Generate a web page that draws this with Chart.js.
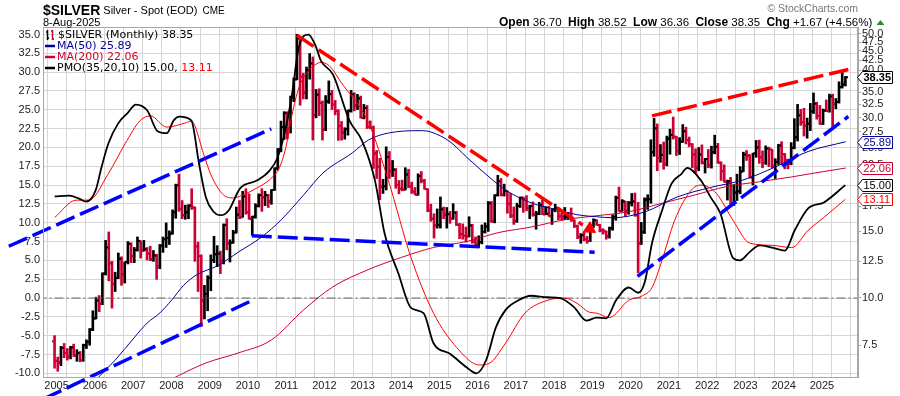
<!DOCTYPE html>
<html>
<head>
<meta charset="utf-8">
<script src="https://cdn.jsdelivr.net/npm/chart.js@4.4.1/dist/chart.umd.min.js"></script>
<style>
html,body{margin:0;padding:0;background:#fff;}
#wrap{width:900px;height:396px;}
</style>
</head>
<body>
<div id="wrap"><canvas id="grafico" width="900" height="396"></canvas></div>
<script>
// velas mensuales de plata, desde dic-2004 hasta ago-2025
const fechaInicio = 2004 + 11/12 + 0.03;

const aperturas = [7.68,
 6.82,6.75,7.38,7.15,6.99,7.40,7.05,7.15,6.85,7.50,7.65,8.25,
 8.83,9.85,9.65,11.60,13.60,12.35,10.90,11.30,12.70,11.55,12.45,13.90,
 12.90,13.40,14.15,13.35,13.45,13.10,12.65,12.95,12.10,13.75,14.30,14.40,
 14.80,16.85,19.85,17.20,16.55,16.85,17.55,17.35,13.70,12.90,9.85,10.25,
 11.30,12.60,13.05,13.10,12.55,15.60,13.95,14.00,14.90,16.60,16.35,18.55,
 16.85,16.20,16.40,17.50,18.70,18.45,18.70,18.00,19.30,22.00,24.70,28.30,
 30.85,28.05,33.90,37.85,48.60,38.50,34.90,40.00,41.70,30.45,34.50,32.80,
 27.90,33.10,34.60,32.50,31.25,28.50,27.40,27.95,31.30,34.55,32.30,33.70,
 29.95,31.80,28.40,28.20,24.10,22.25,19.70,19.75,23.60,21.70,21.85,19.90,
 19.45,19.35,21.20,19.75,19.10,18.75,21.00,20.40,19.40,17.05,16.20,15.55,
 15.60,17.15,16.60,16.65,16.20,16.80,15.60,14.75,14.60,14.55,15.55,14.10,
 13.85,14.05,14.95,15.45,17.80,15.95,18.70,20.35,18.75,19.20,17.75,16.50,
 15.95,17.50,18.40,18.25,17.30,17.50,16.60,16.70,17.60,16.65,16.70,16.45,
 17.15,17.30,16.45,16.35,16.40,16.45,16.05,15.50,14.50,14.65,14.30,14.15,
 15.45,16.05,15.60,15.10,15.00,14.55,15.30,16.35,18.40,16.95,18.00,16.95,
 17.85,18.00,16.55,13.95,14.95,18.20,18.25,24.30,28.10,23.45,23.90,22.60,
 26.40,27.00,26.70,24.45,25.90,27.60,26.15,25.50,23.95,22.10,23.95,22.80,
 23.30,22.40,24.30,25.10,22.80,21.65,20.30,20.35,17.80,19.00,19.15,21.60,
 23.95,23.80,20.85,24.10,25.00,23.55,22.75,24.85,24.70,22.35,22.90,25.30,
 24.00,23.15,22.65,24.95,26.60,30.40,29.15,28.55,28.90,31.15,32.65,30.30,
 28.90,31.30,31.20,34.10,32.65,33.00,36.10,36.70];

const maximos = [7.95,
 6.98,7.45,7.58,7.35,7.45,7.55,7.30,7.22,7.55,7.75,8.30,9.25,
 10.05,10.15,11.65,14.20,14.95,12.50,11.70,13.15,12.85,12.45,14.10,14.00,
 13.60,14.50,14.15,14.20,13.60,13.70,13.35,13.05,13.85,14.50,15.80,15.05,
 17.10,20.00,21.25,18.10,17.60,17.65,19.45,17.40,14.05,13.00,10.80,11.45,
 13.00,14.55,13.75,13.30,15.70,16.20,14.25,15.10,17.40,18.10,19.15,19.45,
 18.85,16.45,17.75,18.85,19.45,19.15,18.80,19.35,22.10,24.85,29.35,31.10,
 31.10,34.20,38.15,49.80,48.70,39.30,40.80,44.30,43.40,35.60,35.75,33.20,
 34.30,37.50,35.40,33.30,31.45,29.30,28.20,31.40,35.40,34.90,34.55,34.20,
 32.50,32.30,29.40,28.50,24.55,23.40,20.60,25.10,24.40,23.10,22.00,20.45,
 20.50,22.10,21.90,20.25,19.60,21.30,21.60,20.60,19.45,17.70,16.70,17.20,
 18.50,17.40,17.35,16.95,17.75,16.95,15.75,15.70,15.40,16.40,15.65,14.50,
 14.60,15.60,15.80,18.00,18.00,18.75,21.10,20.70,20.00,19.20,18.90,17.40,
 17.80,18.50,18.50,18.65,17.60,17.95,16.95,17.90,18.20,17.45,17.50,17.15,
 17.70,17.30,16.80,17.35,16.85,17.30,16.10,15.60,14.80,14.95,14.55,15.55,
 16.20,16.10,15.65,15.25,15.05,15.40,16.60,18.60,19.65,18.20,18.00,18.00,
 18.90,18.95,17.90,15.85,18.40,18.75,26.20,29.85,28.85,25.45,25.85,26.80,
 27.95,30.10,26.75,26.55,28.75,28.30,26.65,25.60,24.80,25.00,25.40,23.40,
 24.70,25.20,26.95,25.65,22.90,22.50,20.50,20.85,19.95,21.25,22.25,24.30,
 24.55,23.95,24.15,26.10,26.15,24.50,25.25,25.05,24.70,23.35,25.50,25.90,
 24.10,23.30,25.75,29.80,32.50,31.55,31.75,29.90,32.70,34.85,32.95,32.30,
 31.60,33.40,34.60,34.60,33.70,37.30,39.50,38.52];

const minimos = [6.52,
 6.40,6.62,6.95,6.85,6.90,7.00,6.80,6.78,6.80,7.35,7.50,8.20,
 8.80,9.20,9.60,11.50,11.10,9.40,10.40,11.25,10.80,10.95,12.30,12.40,
 12.40,13.30,12.75,13.30,12.60,12.55,12.50,11.20,11.95,13.20,13.60,13.85,
 14.75,16.25,16.95,16.20,16.15,16.20,17.15,12.50,10.40,8.40,8.80,9.25,
 10.45,12.40,12.10,11.60,12.30,13.40,12.45,13.95,14.85,16.20,16.35,16.65,
 16.15,14.65,16.25,17.40,16.95,17.55,17.35,17.70,19.25,21.80,24.35,26.25,
 26.35,27.30,33.05,37.75,32.35,33.60,33.60,37.90,26.15,29.95,30.35,26.15,
 27.70,32.70,31.50,30.50,26.10,26.15,26.30,26.95,31.00,31.25,31.50,29.90,
 29.75,28.05,28.00,22.00,20.70,18.20,18.90,19.30,20.70,20.95,19.50,18.85,
 19.20,19.30,19.55,18.90,18.75,18.70,20.15,19.40,16.90,15.95,14.40,15.30,
 15.30,16.20,15.30,15.75,16.15,15.55,14.35,14.30,14.05,14.50,13.95,13.60,
 13.60,13.90,14.85,15.00,15.85,15.80,18.60,18.60,18.60,16.75,16.30,15.65,
 15.85,17.35,16.85,17.00,16.20,16.45,15.20,16.60,16.60,16.60,16.45,15.65,
 16.90,16.10,16.05,16.10,16.10,15.95,15.35,14.35,13.95,14.15,13.95,14.10,
 15.35,15.55,14.95,14.75,14.30,14.40,15.10,16.05,16.95,16.95,16.45,16.65,
 17.50,16.45,11.65,13.85,14.80,17.15,17.80,23.70,21.70,22.85,21.90,22.35,
 24.00,26.30,23.80,23.95,25.80,25.55,25.10,22.10,21.40,21.70,22.60,21.40,
 22.10,22.05,24.05,22.70,20.45,20.25,18.15,17.55,17.55,18.10,18.85,21.60,
 23.10,20.75,19.90,23.55,22.70,22.10,22.55,22.25,22.10,20.70,22.55,22.50,
 21.95,21.95,22.50,24.80,26.00,28.60,26.80,26.45,27.70,30.75,29.70,28.75,
 28.75,31.10,31.00,28.35,31.65,32.75,35.90,36.36];

const cierres = [6.82,
 6.75,7.38,7.15,6.99,7.40,7.05,7.15,6.85,7.50,7.65,8.25,8.83,
 9.85,9.65,11.60,13.60,12.35,10.90,11.30,12.70,11.55,12.45,13.90,12.90,
 13.40,14.15,13.35,13.45,13.10,12.65,12.95,12.10,13.75,14.30,14.40,14.80,
 16.85,19.85,17.20,16.55,16.85,17.55,17.35,13.70,12.90,9.85,10.25,11.30,
 12.60,13.05,13.10,12.55,15.60,13.95,14.00,14.90,16.60,16.35,18.55,16.85,
 16.20,16.40,17.50,18.70,18.45,18.70,18.00,19.30,22.00,24.70,28.30,30.85,
 28.05,33.90,37.85,48.60,38.50,34.90,40.00,41.70,30.45,34.50,32.80,27.90,
 33.10,34.60,32.50,31.25,28.50,27.40,27.95,31.30,34.55,32.30,33.70,29.95,
 31.80,28.40,28.20,24.10,22.25,19.70,19.75,23.60,21.70,21.85,19.90,19.45,
 19.35,21.20,19.75,19.10,18.75,21.00,20.40,19.40,17.05,16.20,15.55,15.60,
 17.15,16.60,16.65,16.20,16.80,15.60,14.75,14.60,14.55,15.55,14.10,13.85,
 14.05,14.95,15.45,17.80,15.95,18.70,20.35,18.75,19.20,17.75,16.50,15.95,
 17.50,18.40,18.25,17.30,17.50,16.60,16.70,17.60,16.65,16.70,16.45,17.15,
 17.30,16.45,16.35,16.40,16.45,16.05,15.50,14.50,14.65,14.30,14.15,15.45,
 16.05,15.60,15.10,15.00,14.55,15.30,16.35,18.40,16.95,18.00,16.95,17.85,
 18.00,16.55,13.95,14.95,18.20,18.25,24.30,28.10,23.45,23.90,22.60,26.40,
 27.00,26.70,24.45,25.90,27.60,26.15,25.50,23.95,22.10,23.95,22.80,23.30,
 22.40,24.30,25.10,22.80,21.65,20.30,20.35,17.80,19.00,19.15,21.60,23.95,
 23.80,20.85,24.10,25.00,23.55,22.75,24.85,24.70,22.35,22.90,25.30,24.00,
 23.15,22.65,24.95,26.60,30.40,29.15,28.55,28.90,31.15,32.65,30.30,28.90,
 31.30,31.20,34.10,32.65,33.00,36.10,36.68,38.35];

// medias moviles
const fechasMA50 = [2005.70,2006.10,2006.53,2007.04,2007.37,2007.70,2008.01,2008.32,2008.65,2009.23,2009.74,2010.36,2010.87,2011.45,2011.96,2012.73,2013.16,2013.67,2014.52,2014.77,2015.28,2015.71,2016.30,2016.73,2017.40,2018.09,2018.60,2019.11,2019.54,2020.38,2021.22,2022.09,2022.93,2023.78,2024.64,2025.62];
const valoresMA50 = [5.6,6.18,6.85,7.88,8.59,9.13,9.88,10.8,11.5,12.2,13.2,14.5,16.1,18.7,21.4,24.2,26.2,27.3,27.7,27.5,25.9,23.6,20.9,19.3,17.85,17.1,16.6,16.4,16.3,16.9,18.5,19.6,20.5,22.2,24.4,25.89];

const fechasMA200 = [2007.30,2007.96,2008.90,2009.74,2010.61,2011.45,2012.22,2013.16,2014.01,2014.85,2015.71,2016.56,2017.40,2018.27,2019.11,2019.95,2020.82,2021.66,2022.50,2023.37,2024.21,2025.05,2025.62];
const valoresMA200 = [5.6,6.07,6.73,7.15,7.74,9.29,10.7,11.9,12.8,13.6,14.1,14.9,15.4,16.1,16.5,16.9,17.8,18.7,19.7,20.3,20.9,21.6,22.06];

// PMO(35,20,10) y su señal
const fechasPMO = [2004.95,2005.33,2005.59,2005.77,2006.02,2006.17,2006.35,2006.61,2006.86,2007.07,2007.37,2007.63,2007.88,2008.06,2008.21,2008.52,2008.72,2008.90,2009.08,2009.29,2009.49,2009.80,2010.23,2010.56,2010.77,2010.99,2011.15,2011.33,2011.58,2011.76,2011.91,2012.22,2012.65,2012.98,2013.32,2013.57,2013.93,2014.26,2014.59,2014.85,2015.28,2015.71,2015.97,2016.22,2016.48,2016.73,2017.07,2017.40,2017.83,2018.16,2018.52,2018.85,2019.11,2019.36,2019.62,2019.95,2020.20,2020.38,2020.56,2020.82,2021.07,2021.33,2021.48,2021.84,2022.09,2022.35,2022.68,2022.86,2023.11,2023.37,2023.70,2024.03,2024.29,2024.64,2025.05,2025.61];
const valoresPMO = [13.5,13.6,13.2,12.8,14.3,17.3,20.5,23.2,24.6,25.7,24.9,22.2,21.9,23.6,24.1,23.6,17.9,13.4,11.6,11.0,11.6,14.6,15.6,16.9,18.6,22.6,27.0,33.3,35.0,33.6,31.5,29.7,23.6,20.9,15.6,8.6,3.3,-1.3,-2.0,-6.0,-7.4,-9.2,-10.0,-8.3,-3.9,-1.6,-0.3,0.3,0.1,0.0,-1.2,-3.0,-2.6,-2.7,-0.3,1.4,0.7,2.3,7.3,11.6,15.2,16.5,17.3,15.6,13.4,11.2,5.3,5.0,6.1,7.0,6.7,6.3,9.0,11.9,12.7,15.0];

const fechasSenal = [2004.95,2005.51,2005.84,2006.35,2006.79,2007.19,2007.45,2007.88,2008.39,2008.52,2008.85,2009.03,2009.36,2009.62,2009.87,2010.23,2010.56,2010.82,2010.99,2011.15,2011.33,2011.58,2011.76,2011.91,2012.09,2012.22,2012.40,2013.16,2013.67,2014.26,2014.85,2015.46,2016.05,2016.30,2016.73,2017.24,2017.83,2018.27,2018.60,2018.93,2019.11,2019.44,2019.95,2020.31,2020.56,2020.82,2021.15,2021.58,2021.84,2022.24,2022.68,2023.11,2023.70,2024.21,2024.64,2025.05,2025.61];
const valoresSenal = [10.7,13.0,13.0,16.5,20.5,23.6,24.2,22.7,23.3,23.5,19.0,16.4,13.7,13.3,13.7,14.6,15.7,17.3,20.0,24.3,27.9,30.2,31.0,31.3,31.0,30.3,28.9,23.2,15.6,5.4,-2.0,-6.6,-8.9,-8.7,-6.0,-2.0,-0.3,0.0,-0.7,-1.9,-2.0,-2.6,-0.3,0.3,1.4,5.0,10.3,14.3,15.0,13.9,10.3,7.3,7.0,6.7,9.0,10.7,13.11];

// lineas de tendencia [fecha, precio]
const tendAzulSup = [[2003.75,13.7],[2010.61,28.0]];
const tendAzulInf = [[2004.65,5.40],[2010.08,9.82]];
const tendAzulPlana = [[2010.10,14.6],[2019.06,13.2]];
const tendRojaBaja = [[2011.28,49.5],[2018.75,15.6]];
const tendRojaSup = [[2020.56,30.3],[2025.69,40.2]];
const tendAzulDer = [[2020.18,11.4],[2025.69,30.2]];
const flecha = [[2018.93,15.25]];

const ticksIzq = [-10,-7.5,-5,-2.5,0,2.5,5,7.5,10,12.5,15,17.5,20,22.5,25,27.5,30,32.5,35];
const ticksDer = [7.5,10,12.5,15,17.5,20,22.5,25,27.5,30,32.5,35,37.5,40,42.5,45,47.5,50];

const ROJO_BARRA = '#cc0033';
const fechas = cierres.map((c, i) => fechaInicio + i/12);
const colores = cierres.map((c, i) => {
    const prev = i == 0 ? aperturas[0] : cierres[i-1];
    return c >= prev ? '#000000' : ROJO_BARRA;
});

function puntos(fs, vs){ return fs.map((f, i) => ({x: f, y: vs[i]})); }
function par(arr){ return arr.map(p => ({x: p[0], y: p[1]})); }

function tendencia(arr, color){
    return {
        type: 'line', data: par(arr), yAxisID: 'yR',
        borderColor: color, borderWidth: 3.5, borderDash: [20, 6],
        pointRadius: 0, clip: false, tension: 0
    };
}
function curva(fs, vs, color, ancho, eje){
    return {
        type: 'line', data: puntos(fs, vs), yAxisID: eje,
        borderColor: color, borderWidth: ancho, pointRadius: 0,
        cubicInterpolationMode: 'monotone'
    };
}

const etiquetas = [
    {valor: 38.35, eje: 'yR', color: '#000000', negrita: true},
    {valor: 25.89, eje: 'yR', color: '#000099', negrita: false},
    {valor: 22.06, eje: 'yR', color: '#cc0033', negrita: false},
    {valor: 15.00, eje: 'yL', color: '#000000', negrita: false},
    {valor: 13.11, eje: 'yL', color: '#ff0000', negrita: false}
];

const textos = {
    id: 'textos',
    afterDraw(chart){
        const ctx = chart.ctx;
        const a = chart.chartArea;
        ctx.save();
        ctx.strokeStyle = '#a8a8a8';
        ctx.lineWidth = 1;
        ctx.strokeRect(a.left + 0.5, a.top + 0.5, a.right - a.left - 1, a.bottom - a.top);

        // cabecera
        ctx.fillStyle = '#000';
        ctx.textBaseline = 'alphabetic';
        ctx.font = 'bold 14px "Liberation Sans", Arial';
        ctx.fillText('$SILVER', 43, 15);
        let xh = 43 + ctx.measureText('$SILVER').width + 3;
        ctx.font = '11px "Liberation Sans", Arial';
        ctx.fillText('Silver - Spot (EOD)', xh, 14);
        xh += ctx.measureText('Silver - Spot (EOD)').width + 5;
        ctx.font = '10px "Liberation Sans", Arial';
        ctx.fillText('CME', xh, 14);
        ctx.font = '11px "Liberation Sans", Arial';
        ctx.fillText('8-Aug-2025', 43, 26);
        ctx.fillStyle = '#777';
        ctx.font = '10.5px "Liberation Sans", Arial';
        ctx.textAlign = 'right';
        ctx.fillText('\u00A9 StockCharts.com', 858, 12);
        ctx.textAlign = 'left';

        const partes = [['Open', 1], [' 36.70  ', 0], ['High', 1], [' 38.52  ', 0], ['Low', 1], [' 36.36  ', 0],
                        ['Close', 1], [' 38.35  ', 0], ['Chg', 1], [' +1.67 (+4.56%) ', 0]];
        let x = 499;
        partes.forEach(p => {
            ctx.font = p[1] ? 'bold 12px "Liberation Sans", Arial' : '11.5px "Liberation Sans", Arial';
            ctx.fillStyle = '#000';
            ctx.fillText(p[0], x, 26);
            x += ctx.measureText(p[0]).width;
        });
        ctx.fillStyle = '#2e8b2e';
        ctx.beginPath();
        ctx.moveTo(x + 1, 25); ctx.lineTo(x + 9, 25); ctx.lineTo(x + 5, 20); ctx.closePath(); ctx.fill();

        // leyenda
        ctx.font = '11px "DejaVu Sans", Verdana';
        ctx.textBaseline = 'middle';
        ctx.lineWidth = 1.5;
        ctx.strokeStyle = '#000';
        ctx.beginPath(); ctx.moveTo(47.5, 30); ctx.lineTo(47.5, 40); ctx.moveTo(46, 32); ctx.lineTo(47.5, 32); ctx.moveTo(47.5, 38); ctx.lineTo(49, 38); ctx.stroke();
        ctx.strokeStyle = ROJO_BARRA;
        ctx.beginPath(); ctx.moveTo(52.5, 30); ctx.lineTo(52.5, 40); ctx.moveTo(51, 31); ctx.lineTo(52.5, 31); ctx.moveTo(52.5, 39); ctx.lineTo(54, 39); ctx.stroke();
        ctx.fillStyle = '#000';
        ctx.fillText('$SILVER (Monthly) 38.35', 58, 35);
        const filas = [['MA(50) 25.89', '#000099', 46], ['MA(200) 22.06', '#cc0033', 57]];
        ctx.lineWidth = 2.5;
        filas.forEach(f => {
            ctx.strokeStyle = f[1]; ctx.fillStyle = f[1];
            ctx.beginPath(); ctx.moveTo(45, f[2]); ctx.lineTo(55, f[2]); ctx.stroke();
            ctx.fillText(f[0], 57, f[2]);
        });
        ctx.strokeStyle = '#000'; ctx.fillStyle = '#000';
        ctx.beginPath(); ctx.moveTo(45, 68); ctx.lineTo(55, 68); ctx.stroke();
        const t1 = 'PMO(35,20,10) 15.00, ';
        ctx.fillText(t1, 57, 68);
        ctx.fillStyle = '#ff0000';
        ctx.fillText('13.11', 57 + ctx.measureText(t1).width, 68);

        // etiquetas de valor a la derecha
        etiquetas.forEach(e => {
            const y = Math.round(chart.scales[e.eje].getPixelForValue(e.valor)) + 0.5;
            const x0 = a.right - 0.5;
            ctx.beginPath();
            ctx.moveTo(x0, y);
            ctx.lineTo(x0 + 5, y - 6);
            ctx.lineTo(x0 + 35, y - 6);
            ctx.lineTo(x0 + 35, y + 6);
            ctx.lineTo(x0 + 5, y + 6);
            ctx.closePath();
            ctx.fillStyle = '#fff';
            ctx.fill();
            ctx.lineWidth = 1;
            ctx.strokeStyle = e.color;
            ctx.stroke();
            ctx.fillStyle = e.color;
            ctx.font = (e.negrita ? 'bold ' : '') + '11px "Liberation Sans", Arial';
            ctx.textAlign = 'left';
            ctx.fillText(e.valor.toFixed(2), x0 + 6, y + 0.5);
        });
        ctx.restore();
    }
};

Chart.defaults.font.family = '"Liberation Sans", Arial, sans-serif';
Chart.defaults.font.size = 11;
Chart.defaults.color = '#222';

const ctx_g = document.getElementById('grafico');
const grafico = new Chart(ctx_g, {
    type: 'bar',
    data: {
        datasets: [
            {type: 'scatter', data: par(flecha), yAxisID: 'yR', pointStyle: 'triangle', pointRadius: 7,
             rotation: 123, backgroundColor: '#ff0000', borderColor: '#ff0000', clip: false},
            tendencia(tendRojaBaja, '#ff0000'),
            tendencia(tendRojaSup, '#ff0000'),
            tendencia(tendAzulSup, '#0000ff'),
            tendencia(tendAzulInf, '#0000ff'),
            tendencia(tendAzulPlana, '#0000ff'),
            tendencia(tendAzulDer, '#0000ff'),
            curva(fechasPMO, valoresPMO, '#000000', 1.8, 'yL'),
            curva(fechasSenal, valoresSenal, '#ff0000', 1, 'yL'),
            curva(fechasMA50, valoresMA50, '#000099', 1, 'yR'),
            curva(fechasMA200, valoresMA200, '#cc0033', 1, 'yR'),
            {type: 'line', data: [{x: 2004.5, y: 0}, {x: 2026, y: 0}], yAxisID: 'yL',
             borderColor: '#666', borderWidth: 1, borderDash: [9, 3, 2, 3], pointRadius: 0},
            {type: 'scatter', data: fechas.map((f, i) => ({x: f + 0.035, y: cierres[i]})), yAxisID: 'yR',
             pointStyle: 'line', pointRadius: 1.3, borderColor: colores, borderWidth: 2},
            {type: 'scatter', data: fechas.map((f, i) => ({x: f - 0.035, y: aperturas[i]})), yAxisID: 'yR',
             pointStyle: 'line', pointRadius: 1.3, borderColor: colores, borderWidth: 2},
            {type: 'bar', data: fechas.map((f, i) => ({x: f, y: [minimos[i], maximos[i]]})), yAxisID: 'yR',
             backgroundColor: colores, barThickness: 2, grouped: false}
        ]
    },
    options: {
        responsive: false,
        animation: false,
        devicePixelRatio: 1,
        events: [],
        layout: {padding: {top: 27, left: 0, right: 0, bottom: 0}},
        plugins: {legend: {display: false}, tooltip: {enabled: false}},
        scales: {
            x: {
                type: 'linear', min: 2004.898, max: 2025.689,
                afterBuildTicks: s => {
                    const t = [];
                    for (let v = 2005; v <= 2025.5; v += 0.5) t.push({value: v});
                    s.ticks = t;
                },
                afterFit: s => { s.height = 19; },
                ticks: {autoSkip: false, maxRotation: 0, padding: 2,
                        callback: v => Number.isInteger(v) ? String(v) : ''},
                grid: {color: '#d6d6d6', drawTicks: false},
                border: {color: '#a8a8a8'}
            },
            yL: {
                type: 'linear', position: 'left', min: -10.49, max: 36.0,
                afterBuildTicks: s => { s.ticks = ticksIzq.map(v => ({value: v})); },
                afterFit: s => { s.width = 43; },
                ticks: {padding: 3, callback: v => Number(v).toFixed(1)},
                grid: {color: '#d6d6d6', drawTicks: false},
                border: {color: '#a8a8a8'}
            },
            yR: {
                type: 'logarithmic', position: 'right', min: 6.18, max: 52.07,
                afterBuildTicks: s => { s.ticks = ticksDer.map(v => ({value: v})); },
                afterFit: s => { s.width = 42; },
                ticks: {padding: 1, callback: v => Number(v).toFixed(1)},
                grid: {drawOnChartArea: false, tickLength: 3, color: '#a8a8a8'},
                border: {color: '#a8a8a8'}
            }
        }
    },
    plugins: [textos]
});
</script>
</body>
</html>
